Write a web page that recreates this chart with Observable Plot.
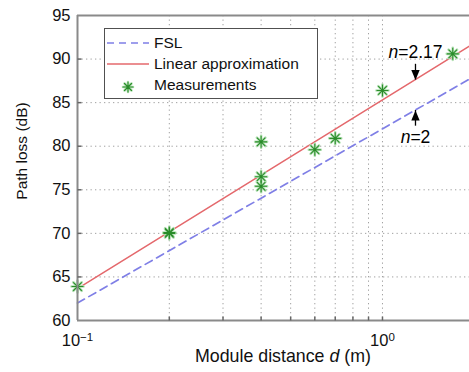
<!DOCTYPE html>
<html><head><meta charset="utf-8">
<script src="https://cdn.jsdelivr.net/npm/d3@7"></script>
<script src="https://cdn.jsdelivr.net/npm/@observablehq/plot@0.6"></script>
<style>
body{margin:0;background:#fff;font-family:"Liberation Sans",Arial,sans-serif;}
#wrap{position:relative;width:469px;height:372px;overflow:hidden;}
#legend{position:absolute;left:104px;top:28px;width:212px;height:69px;border:1.5px solid #505050;background:#fff;font-size:15.5px;color:#111;}
#legend .lbl{position:absolute;left:49px;line-height:18px;white-space:nowrap;}
#legend svg{position:absolute;left:0;top:0;}
.title{position:absolute;color:#111;white-space:nowrap;}
#xtitle{left:195px;top:346px;font-size:17.8px;}
#ytitle{left:22px;top:151px;font-size:15.5px;transform:translate(-50%,-50%) rotate(-90deg);}
</style></head><body>
<div id="wrap">
  <div id="legend">
    <svg width="212" height="69">
      <line x1="2" x2="44" y1="14" y2="14" stroke="#7f7fe6" stroke-width="1.6" stroke-dasharray="7,5"/>
      <line x1="2" x2="44" y1="35" y2="35" stroke="#e4686c" stroke-width="1.4"/>
      <g transform="translate(23,58)" stroke-linecap="round">
        <path d="M-5,0H5M0,-5V5M-3.5,-3.5L3.5,3.5M-3.5,3.5L3.5,-3.5" stroke="#b4e0b4" stroke-width="2.6"/>
        <path d="M-5,0H5M0,-5V5M-3.5,-3.5L3.5,3.5M-3.5,3.5L3.5,-3.5" stroke="#2a8c2a" stroke-width="1.1"/>
      </g>
    </svg>
    <div class="lbl" style="top:5px">FSL</div>
    <div class="lbl" style="top:26px">Linear approximation</div>
    <div class="lbl" style="top:47px">Measurements</div>
  </div>
  <div class="title" id="xtitle">Module distance <i>d</i> (m)</div>
  <div class="title" id="ytitle">Path loss (dB)</div>
</div>
<script>
// ---- data ----
const xDomain = [0.1, 1.929];
const yDomain = [60, 95];
const yTicks = [60, 65, 70, 75, 80, 85, 90, 95];
const xMajorTicks = [0.1, 1];
const xMajorExponents = ["−1", "0"];
const xMinorTicks = [0.2, 0.3, 0.4, 0.5, 0.6, 0.7, 0.8, 0.9];

const measDistance = [0.1, 0.2, 0.2, 0.4, 0.4, 0.4, 0.6, 0.7, 1.0, 1.7];
const measLoss     = [63.9, 70.0, 70.1, 80.5, 76.5, 75.4, 79.6, 80.9, 86.4, 90.6];

const fslDistance = [0.1, 1.929];
const fslLoss     = [62.0, 87.7];
const linDistance = [0.1, 1.929];
const linLoss     = [63.65, 91.5];

const annDistance = [1.283, 1.283];
const annLoss     = [90.75, 81.0];
const annExponent = ["2.17", "2"];
const arrowFrom   = [89.4, 82.3];
const arrowTo     = [87.6, 84.1];
const arrowDir    = ["down", "up"];

// ---- tables ----
const meas = measDistance.map((d, i) => ({d, pl: measLoss[i]}));
const fsl = fslDistance.map((d, i) => ({d, pl: fslLoss[i]}));
const lin = linDistance.map((d, i) => ({d, pl: linLoss[i]}));
const ann = annDistance.map((d, i) => ({d, pl: annLoss[i], n: annExponent[i]}));
const arrows = annDistance.map((d, i) => ({d, from: arrowFrom[i], to: arrowTo[i], dir: arrowDir[i]}));

const star = {draw(c, size) {
  const r = Math.sqrt(size / Math.PI), q = r * Math.SQRT1_2;
  c.moveTo(-r, 0); c.lineTo(r, 0); c.moveTo(0, -r); c.lineTo(0, r);
  c.moveTo(-q, -q); c.lineTo(q, q); c.moveTo(-q, q); c.lineTo(q, -q);
}};
const headDown = {draw(c) { c.moveTo(0, 0); c.lineTo(-4.2, -10); c.lineTo(4.2, -10); c.closePath(); }};
const headUp   = {draw(c) { c.moveTo(0, 0); c.lineTo(-4.2, 10); c.lineTo(4.2, 10); c.closePath(); }};
const tickRight = {draw(c) { c.moveTo(0, 0); c.lineTo(4, 0); }};
const tickUp    = {draw(c) { c.moveTo(0, 0); c.lineTo(0, -4); }};

const gridStyle = {stroke: "#a0a0a0", strokeOpacity: 1, strokeWidth: 1, strokeDasharray: "1.3,3.2"};

const chart = Plot.plot({
  width: 469, height: 372,
  marginLeft: 77, marginRight: 0, marginTop: 15, marginBottom: 52,
  x: {type: "log", domain: xDomain},
  y: {domain: yDomain},
  style: {fontFamily: '"Liberation Sans", Arial, sans-serif', background: "#fff", overflow: "visible"},
  marks: [
    Plot.gridY(yTicks, gridStyle),
    Plot.gridX(xMinorTicks.concat([1]), gridStyle),
    Plot.line(fsl, {x: "d", y: "pl", stroke: "#7f7fe6", strokeWidth: 1.7, strokeDasharray: "8,5"}),
    Plot.line(lin, {x: "d", y: "pl", stroke: "#e4686c", strokeWidth: 1.5}),
    Plot.dot(meas, {x: "d", y: "pl", symbol: star, r: 6, stroke: "#b4e0b4", strokeWidth: 2.6, strokeLinecap: "round"}),
    Plot.dot(meas, {x: "d", y: "pl", symbol: star, r: 6, stroke: "#2a8c2a", strokeWidth: 1.1}),
    Plot.ruleX(arrows, {x: "d", y1: "from", y2: "to", stroke: "#000", strokeWidth: 1.3}),
    Plot.dot(arrows, {x: "d", y: "to", symbol: d => d.dir === "down" ? headDown : headUp, fill: "#000", stroke: null, r: 5}),
    Plot.text(ann, {x: "d", y: "pl", text: d => "n=" + d.n, fontSize: 17.5, fill: "#000"}),
    Plot.ruleY([yDomain[0], yDomain[1]], {stroke: "#8a8a8a", strokeWidth: 2}),
    Plot.ruleX([xDomain[0]], {stroke: "#8a8a8a", strokeWidth: 2}),
    Plot.dot(yTicks.slice(1, -1), {x: () => xDomain[0], y: d => d, symbol: tickRight, stroke: "#666", r: 3}),
    Plot.dot(xMinorTicks.concat([1]), {x: d => d, y: () => yDomain[0], symbol: tickUp, stroke: "#666", r: 3}),
    Plot.axisY(yTicks, {tickSize: 0, tickPadding: 7, fontSize: 16.5, label: null, color: "#111"}),
    Plot.axisX(xMajorTicks, {tickSize: 0, tickPadding: 14, fontSize: 16.5, label: null, color: "#111",
      tickFormat: d => "10^" + xMajorExponents[xMajorTicks.indexOf(d)]})
  ]
});

// superscripts and italic n
chart.querySelectorAll("text").forEach(t => {
  const s = t.textContent;
  if (/^10\^/.test(s)) {
    const e = s.slice(3);
    t.innerHTML = `10<tspan dy="-0.45em" font-size="11.5">${e}</tspan>`;
  } else if (/^n=/.test(s)) {
    t.innerHTML = `<tspan font-style="italic">n</tspan>=${s.slice(2)}`;
  }
});

document.getElementById("wrap").prepend(chart);
chart.style.position = "absolute"; chart.style.left = "0"; chart.style.top = "0";
</script>
</body></html>
